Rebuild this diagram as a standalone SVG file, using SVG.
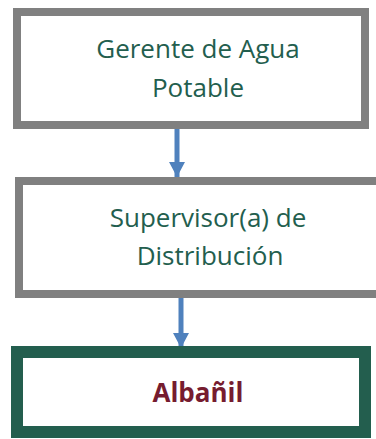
<svg xmlns="http://www.w3.org/2000/svg" width="376" height="439" viewBox="0 0 376 439">
<defs>
<style>
.box{fill:#FFFFFF;stroke:#808080;stroke-width:8}
.lbl{font-family:"Open Sans","Liberation Sans",sans-serif;font-size:26px;fill:#235E4E;text-anchor:middle}
.bold{font-family:"Open Sans","Liberation Sans",sans-serif;font-size:26px;font-weight:bold;fill:#761C2F;text-anchor:middle}
.conn{stroke:#4F81BD;stroke-width:5;fill:none}
</style>
<marker id="ah" markerUnits="userSpaceOnUse" markerWidth="16" markerHeight="16" refX="15" refY="8" orient="auto">
<path d="M0,0 L15,8 L0,16 Z" fill="#4F81BD"/>
</marker>
</defs>
<rect width="376" height="439" fill="#FFFFFF"/>
<g id="connectors">
<line class="conn" x1="177" y1="129" x2="177" y2="177" marker-end="url(#ah)"/>
<line class="conn" x1="181" y1="298" x2="181" y2="348" marker-end="url(#ah)"/>
</g>
<g id="gerente">
<rect class="box" x="17" y="12" width="348" height="113"/>
<text class="lbl" x="198" y="58">Gerente de Agua</text>
<text class="lbl" x="198" y="97">Potable</text>
</g>
<g id="supervisor">
<rect class="box" x="19" y="181" width="365" height="113"/>
<text class="lbl" x="208" y="227">Supervisor(a) de</text>
<text class="lbl" x="210" y="265">Distribución</text>
</g>
<g id="albanil">
<rect x="17" y="352" width="348" height="80" fill="#FFFFFF" stroke="#235E4E" stroke-width="12"/>
<text class="bold" x="198" y="402">Albañil</text>
</g>
</svg>
